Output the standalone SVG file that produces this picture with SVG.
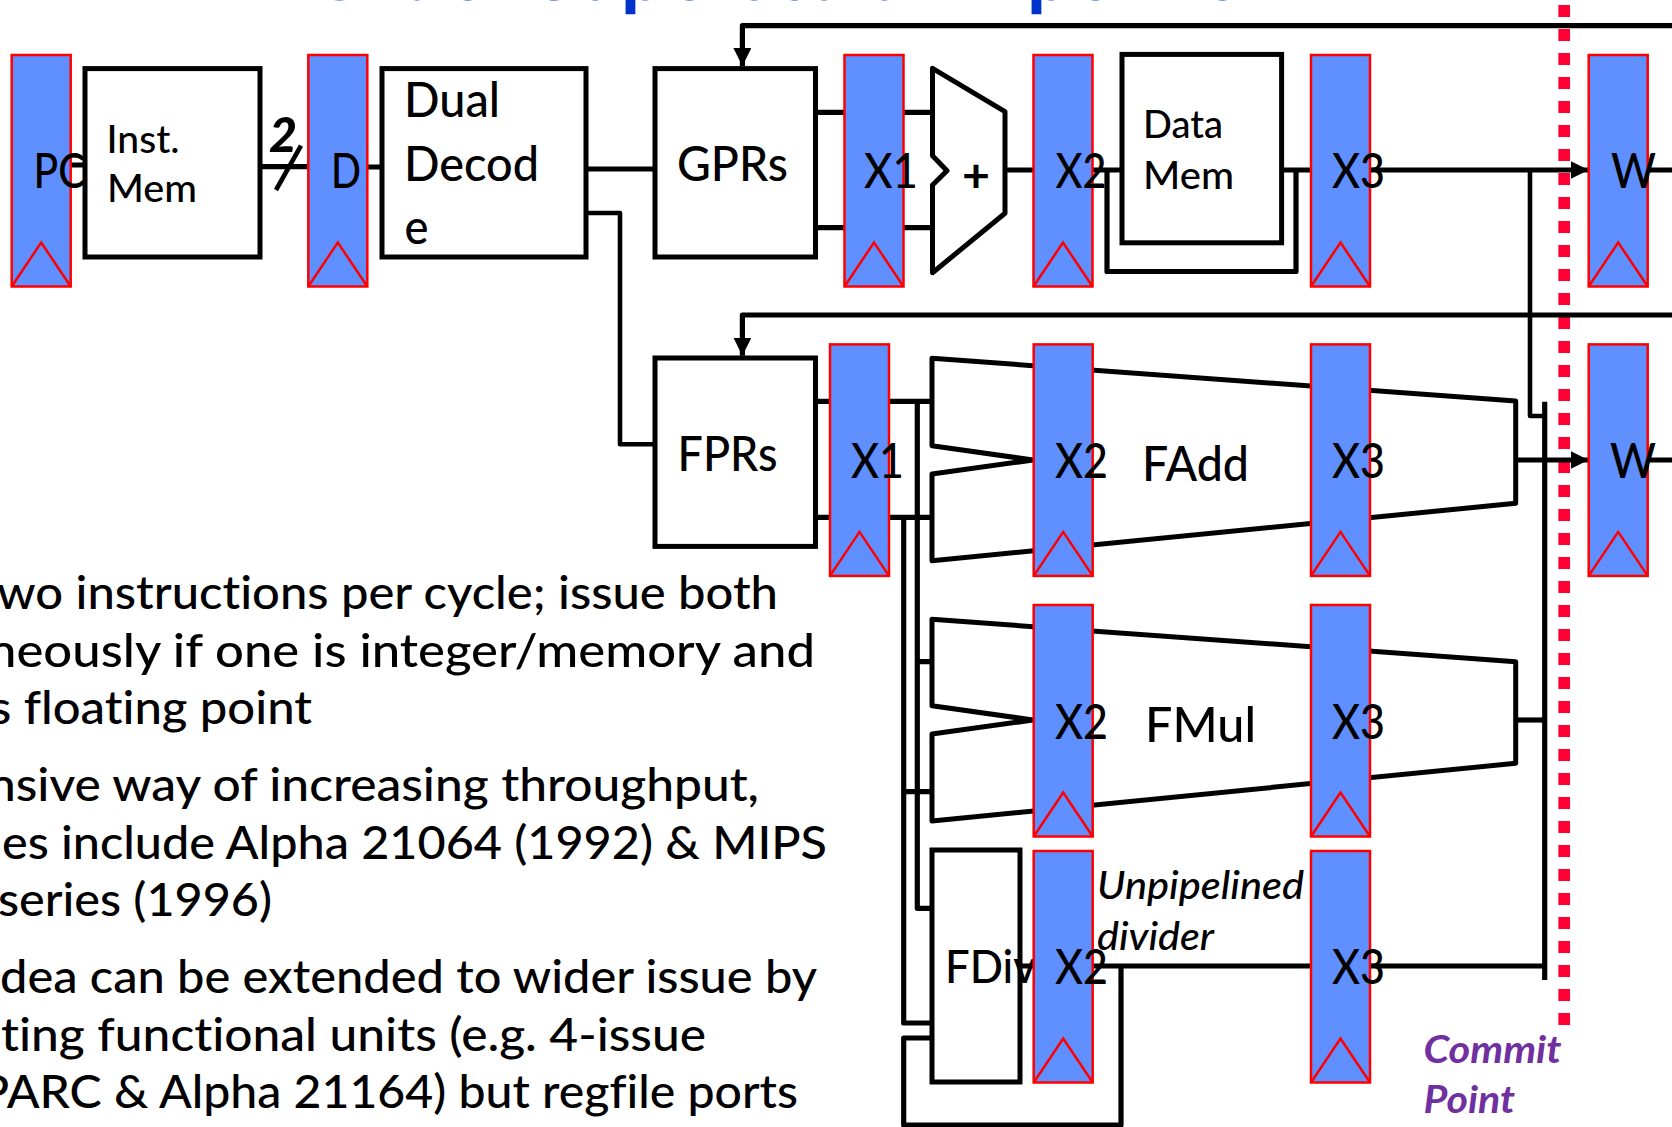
<svg xmlns="http://www.w3.org/2000/svg" width="1672" height="1127" viewBox="0 0 1672 1127">
<style>
text{font-family:Lato,"Liberation Sans",sans-serif;fill:#000;font-weight:500;font-variant-ligatures:none}
.reg{fill:#608fff;stroke:#ff0000;stroke-width:2.5}
.clk{fill:none;stroke:#ff0000;stroke-width:2.5}
.box{fill:#fff;stroke:#000;stroke-width:5}
.unit{fill:#fff;stroke:#000;stroke-width:5;stroke-linejoin:round}
.w{fill:none;stroke:#000;stroke-width:5.2;stroke-linejoin:round}
.t{stroke-width:4.6}
.l{font-size:48px}
.m{font-size:38px}
.b{font-size:46px}
</style>
<defs>
<g id="r"><rect class="reg" x="0" y="0" width="59" height="231.5"/><path class="clk" d="M0 231.5L29.5 187.5L59 231.5"/></g>
<marker id="a" markerUnits="userSpaceOnUse" markerWidth="20" markerHeight="20" refX="18" refY="9" orient="auto"><path d="M0 0L18 9L0 18Z" fill="#000"/></marker>
</defs>

<text id="title" x="210" y="0" font-size="82" style="fill:#0033cc;font-weight:700" textLength="1031" lengthAdjust="spacingAndGlyphs">In-Order Superscalar Pipeline</text>

<g id="bullets">
<text class="b" x="-3" y="609" textLength="781" lengthAdjust="spacingAndGlyphs">wo instructions per cycle; issue both</text>
<text class="b" x="-12" y="666.5" textLength="827" lengthAdjust="spacingAndGlyphs">neously if one is integer/memory and</text>
<text class="b" x="-10" y="724" textLength="322" lengthAdjust="spacingAndGlyphs">s floating point</text>
<text class="b" x="-12" y="801" textLength="771" lengthAdjust="spacingAndGlyphs">nsive way of increasing throughput,</text>
<text class="b" x="2" y="858.5" textLength="825" lengthAdjust="spacingAndGlyphs">es include Alpha 21064 (1992) &amp; MIPS</text>
<text class="b" x="-2" y="916" textLength="274" lengthAdjust="spacingAndGlyphs">series (1996)</text>
<text class="b" x="0" y="993" textLength="817" lengthAdjust="spacingAndGlyphs">dea can be extended to wider issue by</text>
<text class="b" x="1" y="1050.5" textLength="705" lengthAdjust="spacingAndGlyphs">ting functional units (e.g. 4-issue</text>
<text class="b" x="-20" y="1108" textLength="818" lengthAdjust="spacingAndGlyphs">PARC &amp; Alpha 21164) but regfile ports</text>
</g>

<path id="commit-line" d="M1564.2 5V1025" fill="none" stroke="#ff0033" stroke-width="11.7" stroke-dasharray="12 12"/>

<g id="connectors">
<path class="w" d="M1672 25.7H742.4V66" marker-end="url(#a)"/>
<path class="w" d="M1672 315H742.4V355.7" marker-end="url(#a)"/>
<path class="w" d="M70 165H83M262 166.7H308M367 167H380"/>
<path class="w t" d="M301 145.7L276 190"/>
<path class="w" d="M588 169H653"/>
<path class="w t" d="M588 213H620V444.3H653"/>
<path class="w" d="M817 112.3H844M903 112.3H932M817 227.7H844M903 227.7H932M1005 170H1033M1093 170H1120M1284 170H1311"/>
<path class="w" d="M1107 170V271.5H1296V170"/>
<path class="w" d="M1370 170H1588.5" marker-end="url(#a)"/>
<path class="w" d="M1647 170H1672M1647 460H1672"/>
<path class="w t" d="M1530 170V416H1544.7"/>
<path class="w" d="M1544.7 401.7V980"/>
<path class="w" d="M1516 460H1588.5" marker-end="url(#a)"/>
<path class="w" d="M1516 720H1545"/>
<path class="w" d="M817 401.3H830M889 401.3H932M817 517.3H830M889 517.3H932"/>
<path class="w" d="M917.3 401.3V908.3H932M917.3 661.7H932"/>
<path class="w" d="M903.7 517.3V1023H932M903.7 791.7H932"/>
<path class="w" d="M932 1038H903.7V1125H1121V966"/>
<path class="w" d="M1022 966H1033M1093 966H1311M1370 966H1545"/>
</g>

<g id="pc"><use href="#r" x="11.7" y="55"/><text class="l" x="33.5" y="188" textLength="52" lengthAdjust="spacingAndGlyphs">PC</text></g>
<g id="inst-mem"><rect class="box" x="85" y="68.6" width="175" height="188.4"/><text class="m" x="106.5" y="152.7" textLength="73" lengthAdjust="spacingAndGlyphs">Inst.</text><text class="m" x="107" y="202" textLength="90" lengthAdjust="spacingAndGlyphs">Mem</text></g>
<g id="dual-decode"><rect class="box" x="382" y="68.6" width="204" height="188.4"/><text class="l" x="404" y="116.7" textLength="96" lengthAdjust="spacingAndGlyphs">Dual</text><text class="l" x="404" y="181" textLength="135" lengthAdjust="spacingAndGlyphs">Decod</text><text class="l" x="404.5" y="244" textLength="24" lengthAdjust="spacingAndGlyphs">e</text></g>
<g id="gprs"><rect class="box" x="655" y="68.6" width="160.5" height="188.4"/><text class="l" x="677" y="181" textLength="111" lengthAdjust="spacingAndGlyphs">GPRs</text></g>
<g id="fprs"><rect class="box" x="655" y="358" width="160.5" height="188.4"/><text class="l" x="677.5" y="471" textLength="100" lengthAdjust="spacingAndGlyphs">FPRs</text></g>
<g id="alu"><path class="unit" d="M932.5 68.3L1005 111.7V213.3L932.5 272.7V185L947 170.7L932.5 155.7Z"/><text x="962" y="192" font-size="46" style="font-weight:700" textLength="28" lengthAdjust="spacingAndGlyphs">+</text></g>
<g id="data-mem"><rect class="box" x="1122" y="54.4" width="159.6" height="188.4"/><text class="m" x="1143" y="137.7" textLength="80" lengthAdjust="spacingAndGlyphs">Data</text><text class="m" x="1143" y="188.7" textLength="91" lengthAdjust="spacingAndGlyphs">Mem</text></g>
<g id="fadd"><path class="unit" d="M932 358.3L1515.7 401V503.3L932 560.7V474L1033 460L932 445.7Z"/><text class="l" x="1142" y="481" textLength="107" lengthAdjust="spacingAndGlyphs">FAdd</text></g>
<g id="fmul"><path class="unit" d="M932 619.3L1515.7 661.7V763.3L932 821V734L1033 720L932 705.7Z"/><text class="l" x="1145" y="742" textLength="111" lengthAdjust="spacingAndGlyphs">FMul</text></g>
<g id="fdiv"><rect class="box" x="932" y="850" width="88" height="232"/><text class="b" x="945" y="982.7" textLength="91" lengthAdjust="spacingAndGlyphs">FDiv</text></g>

<g id="reg-d"><use href="#r" x="308.3" y="55"/><text class="l" x="331" y="188" textLength="30" lengthAdjust="spacingAndGlyphs">D</text></g>
<g id="reg-x1"><use href="#r" x="844.5" y="55"/><text class="l" x="864" y="188" textLength="54" lengthAdjust="spacingAndGlyphs">X1</text></g>
<g id="reg-x2"><use href="#r" x="1033.5" y="55"/><text class="l" x="1055.5" y="188" textLength="51" lengthAdjust="spacingAndGlyphs">X2</text></g>
<g id="reg-x3"><use href="#r" x="1311" y="55"/><text class="l" x="1332" y="188" textLength="53" lengthAdjust="spacingAndGlyphs">X3</text></g>
<g id="reg-w"><use href="#r" x="1588.7" y="55"/><text class="l" x="1611" y="188" textLength="45" lengthAdjust="spacingAndGlyphs">W</text></g>
<g id="reg-fx1"><use href="#r" x="830" y="344.4"/><text class="l" x="851" y="477.7" textLength="53" lengthAdjust="spacingAndGlyphs">X1</text></g>
<g id="reg-fadd-x2"><use href="#r" x="1033.7" y="344.4"/><text class="l" x="1055" y="477.7" textLength="53" lengthAdjust="spacingAndGlyphs">X2</text></g>
<g id="reg-fadd-x3"><use href="#r" x="1311" y="344.4"/><text class="l" x="1332" y="477.7" textLength="53" lengthAdjust="spacingAndGlyphs">X3</text></g>
<g id="reg-fw"><use href="#r" x="1588.7" y="344.4"/><text class="l" x="1610" y="477.7" textLength="46" lengthAdjust="spacingAndGlyphs">W</text></g>
<g id="reg-fmul-x2"><use href="#r" x="1033.7" y="605"/><text class="l" x="1055" y="738.7" textLength="53" lengthAdjust="spacingAndGlyphs">X2</text></g>
<g id="reg-fmul-x3"><use href="#r" x="1311" y="605"/><text class="l" x="1332" y="738.7" textLength="53" lengthAdjust="spacingAndGlyphs">X3</text></g>
<g id="reg-fdiv-x2"><use href="#r" x="1033.7" y="851"/><text class="l" x="1055" y="983.7" textLength="53" lengthAdjust="spacingAndGlyphs">X2</text></g>
<g id="reg-fdiv-x3"><use href="#r" x="1311" y="851"/><text class="l" x="1332" y="983.7" textLength="53" lengthAdjust="spacingAndGlyphs">X3</text></g>

<g id="labels">
<text x="269" y="152" font-size="48" style="font-weight:900" font-style="italic" textLength="28" lengthAdjust="spacingAndGlyphs">2</text>
<text x="1097" y="899" font-size="38" font-style="italic" textLength="207" lengthAdjust="spacingAndGlyphs">Unpipelined</text>
<text x="1097" y="950" font-size="38" font-style="italic" textLength="117" lengthAdjust="spacingAndGlyphs">divider</text>
<text x="1423.5" y="1062.5" font-size="38" font-style="italic" style="fill:#7030a0;font-weight:700" textLength="138" lengthAdjust="spacingAndGlyphs">Commit</text>
<text x="1423.5" y="1112.5" font-size="38" font-style="italic" style="fill:#7030a0;font-weight:700" textLength="91.5" lengthAdjust="spacingAndGlyphs">Point</text>
</g>
</svg>
